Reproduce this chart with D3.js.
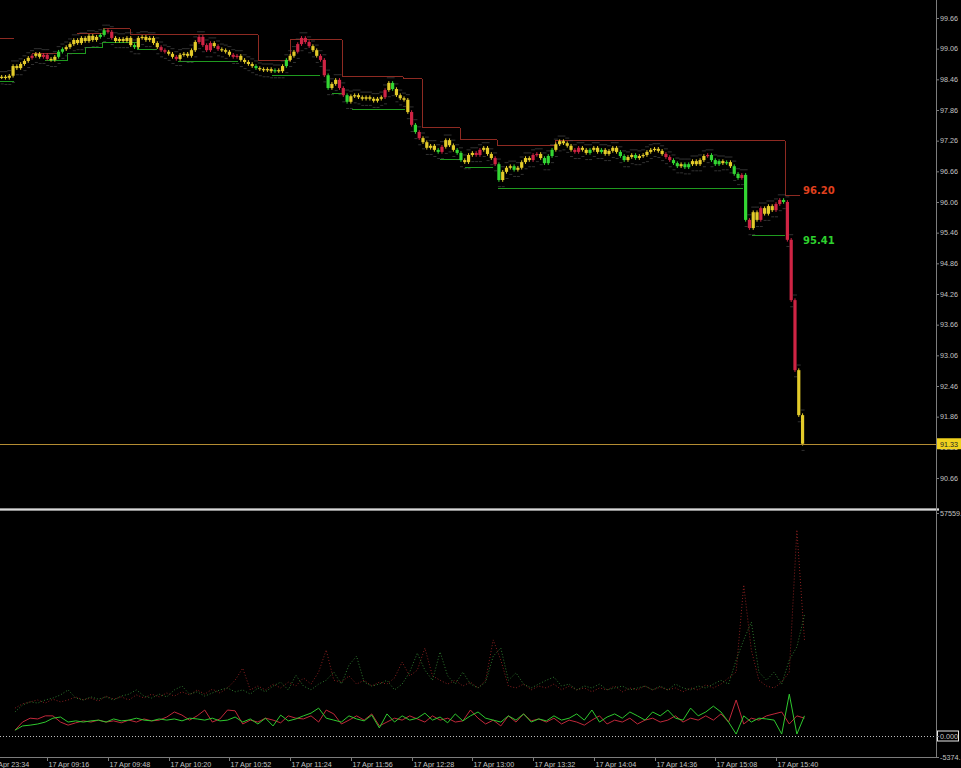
<!DOCTYPE html>
<html><head><meta charset="utf-8">
<script src="https://cdn.jsdelivr.net/npm/d3@7"></script>
<style>body{margin:0;background:#000;overflow:hidden}svg{display:block}</style>
</head><body>
<svg id="c" width="961" height="768"></svg>
<script>
// ---------- DATA ----------
const firstOpen = 98.50;
// closes, one candle per 2 one-minute bars, starting at bar 8
const closes = [
98.51,98.49,98.53,98.72,98.68,98.76,98.82,98.88,98.92,98.96,
98.90,98.94,98.86,98.84,98.90,99.00,99.05,99.09,99.15,99.23,
99.17,99.27,99.21,99.31,99.23,99.29,99.33,99.42,99.39,99.27,
99.21,99.25,99.21,99.27,99.13,99.09,99.27,99.29,99.23,99.27,
99.17,99.09,99.03,99.00,98.96,98.90,98.86,98.94,98.96,98.92,
99.03,99.19,99.29,99.13,99.03,99.17,99.11,99.05,99.03,99.00,
98.94,98.90,98.92,98.84,98.80,98.76,98.72,98.68,98.66,98.64,
98.66,98.62,98.64,98.62,98.72,98.84,98.92,99.00,99.15,99.27,
99.19,99.11,99.03,98.92,98.84,98.54,98.29,98.37,98.45,98.29,
98.15,98.02,98.13,98.15,98.11,98.08,98.11,98.08,98.04,98.08,
98.11,98.25,98.39,98.27,98.15,98.09,98.06,97.82,97.57,97.43,
97.31,97.23,97.12,97.16,97.08,97.04,97.14,97.27,97.17,97.08,
97.02,96.88,96.84,96.98,97.02,96.98,97.08,97.12,97.00,96.92,
96.80,96.49,96.65,96.73,96.76,96.69,96.73,96.84,96.92,96.88,
96.98,97.00,96.92,96.82,96.96,97.08,97.19,97.25,97.21,97.16,
97.08,97.04,97.12,97.08,97.02,97.08,97.12,97.04,97.08,97.00,
97.06,97.12,97.04,96.96,96.88,96.94,96.98,96.92,96.96,96.98,
97.04,97.08,97.10,97.06,97.00,96.94,96.88,96.82,96.76,96.80,
96.74,96.80,96.86,96.80,96.88,96.96,96.98,96.88,96.80,96.86,
96.82,96.84,96.76,96.61,96.53,96.59,95.71,95.55,95.86,95.71,
95.94,95.83,95.98,95.90,96.02,96.10,96.06,95.32,94.14,92.77,
91.89,91.33];
const candleColors =
"yyyyyyyyryyrryygg" + "yyyyyyyyy" + "ggrr" + "yyyyy" + "g" + "yyyyyy" + "rr" + "yyr" + "yyyyy" +
"rrrryr" + "yyyrr" + "yyyy" + "g" + "yyyy" + "g" + "yygy" + "yrrrr" + "yy" + "rrgyyrrg" +
"yyyyyyyyy" + "ryg" + "yyyy" + "rgr" + "yyyy" + "gr" + "yyy" + "gg" + "yyy" + "rr" + "yyyrg" +
"yyyg" + "yyyy" + "rryggg" + "yyyyy" + "rr" + "yygyy" + "g" + "yyyy" + "gg" + "yygyy" + "yyyyy" +
"rrg" + "gyggy" + "yyy" + "rgggyg" + "yggrgryyryyyrrgrrry";
const upperSteps = [
[0,14.5,99.27],[24,37,98.98],[47.7,61.4,99.37],[61.4,75.6,99.47],[75.6,143,99.35],
[143,160,98.83],[160,187.3,99.25],[187.3,219.4,98.53],[219.4,229.4,98.49],
[229.4,249.5,97.53],[249.5,269,97.30],[269,299.5,97.17],[299.5,420.7,97.28],[420.7,428.6,96.20]];
const lowerSteps = [
[0,14.5,98.43],[30.8,42.4,98.84],[42.4,51.9,98.97],[51.9,60.9,99.10],[60.9,79.3,99.20],
[79.3,89.8,99.05],[100.9,132.5,98.82],[150.4,175.7,98.55],[182,187.3,98.19],[192.6,220.5,97.87],
[238.9,250.5,96.90],[252.1,266.9,96.74],[269.5,398.6,96.34],[403.3,420.7,95.41]];
const priceTicks = [99.66,99.06,98.46,97.86,97.26,96.66,96.06,95.46,94.86,94.26,93.66,93.06,92.46,91.86,91.26,90.66];
const lastPrice = 91.33;
const levelHigh = 96.20, levelLow = 95.41;
const timeLabels = ["16 Apr 23:34","17 Apr 09:16","17 Apr 09:48","17 Apr 10:20","17 Apr 10:52","17 Apr 11:24",
"17 Apr 11:56","17 Apr 12:28","17 Apr 13:00","17 Apr 13:32","17 Apr 14:04","17 Apr 14:36","17 Apr 15:08","17 Apr 15:40"];
// lower panel, one point per 4 bars starting at bar 15
const volGreen = [1500,2600,2800,3100,3600,4600,4900,3600,3900,3600,3900,4100,3600,4400,3900,4100,4600,4100,3900,4400,
4100,4400,3900,4600,4400,4100,4600,3900,4100,4900,3600,4400,3100,4600,2600,5400,3900,4400,5200,5900,
7200,4600,4100,3600,5200,4400,3900,5400,2100,5700,3600,5200,4100,4600,5900,4100,4900,3400,5700,3900,
5200,6200,4600,4100,3600,5200,4100,5700,3600,4400,3900,5200,4100,4600,5700,4100,6700,3600,4900,5700,
4600,6200,5200,4100,6200,5200,6700,4600,4100,7200,5200,6200,7700,6200,3600,500,5200,3600,4600,4400,
4100,500,10800,500,5200];
const volRed = [1500,3600,4600,4400,5200,5200,3600,2800,3400,3900,3600,4100,3600,3900,3400,4100,3600,4400,3900,4100,
4900,6200,5400,4100,5200,6700,3600,4400,6700,6500,3100,4100,3600,4600,4100,3400,5200,4600,4400,5200,
3600,6700,5700,3100,4100,5200,4100,5700,2600,3600,4600,4100,5200,4400,3600,5200,4100,4600,3600,3900,
6700,4600,3100,4100,2600,5200,3600,5700,3900,4400,3600,4600,3100,4100,3600,2800,4100,5200,3100,4100,
3600,4600,3100,4100,4600,3600,4100,5200,3600,4600,4100,5200,4100,5700,3600,9300,3100,4600,4100,5200,
5700,6200,3100,5200,4600];
const volDotRed = [7200,8300,8800,9300,8500,9500,8800,9300,10100,9300,9800,9000,10300,9500,10100,9300,10600,9800,10800,10100,
11100,10300,11400,10600,11900,10800,12100,11100,12400,14400,17500,11900,12900,11900,13400,12400,13900,12900,15000,13400,
16500,22200,14400,13900,15500,13400,14400,12900,13900,13400,15000,19100,15500,17000,22700,15500,14400,13400,14400,12900,
13900,12400,14400,24800,19600,12900,12400,13400,11900,12900,12400,13400,11900,12900,11900,12400,11400,12400,11900,12900,
11400,12400,11900,12900,11900,12600,11900,12400,11400,12400,11900,13200,12400,13400,15000,16500,39000,22200,14400,12900,
12400,13900,16500,53200,24800];
const volDotGreen = [6200,8000,8800,8500,9300,9800,10600,11900,9800,9300,10100,9500,10100,9300,10300,10800,11900,10300,9800,10800,
10100,11900,12900,10800,11400,10300,11100,11900,12400,11400,11900,10800,12400,11400,12900,13900,11900,15700,12900,11900,
13400,14400,16500,13400,18300,20600,13900,12900,13400,14400,11900,13400,16500,21400,17000,14400,21700,15500,13400,16500,
13400,12400,13900,20600,22700,14400,16300,13400,12400,13400,14400,15200,12900,13400,11900,12900,12400,13400,11900,12400,
12900,11900,12400,12900,11900,12900,11900,13400,12400,11900,12900,12400,13400,14400,13400,19600,24800,29400,16500,14400,
16500,13400,19600,23000,31200];
const volTicks = [57559, 0, -5374];

// ---------- SCALES ----------
const W = 961, AX = 936;
const x = d3.scaleLinear().domain([0, 416]).range([-13.5, 776]);
const yP = d3.scaleLinear().domain([90.66, 99.66]).range([478, 18]);
const yV = d3.scaleLinear().domain([0, 57559]).range([736, 513]);
const col = {y:"#e3cb2a", g:"#33d633", r:"#cf2444"};
const svg = d3.select("#c");
svg.append("rect").attr("width",W).attr("height",768).attr("fill","#000");
svg.append("defs").append("clipPath").attr("id","cp").append("rect").attr("x",0).attr("y",0).attr("width",AX).attr("height",507);
svg.select("defs").append("clipPath").attr("id","cv").append("rect").attr("x",0).attr("y",511).attr("width",AX).attr("height",246);

const main = svg.append("g").attr("clip-path","url(#cp)");

// step lines
function drawSteps(steps, color){
  const g = main.append("g").attr("stroke",color).attr("stroke-width",1).attr("fill","none").attr("shape-rendering","crispEdges");
  steps.forEach((s,i)=>{
    g.append("line").attr("x1",x(s[0])).attr("x2",x(s[1])).attr("y1",Math.round(yP(s[2]))+0.5).attr("y2",Math.round(yP(s[2]))+0.5);
    const n = steps[i+1];
    if(n && Math.abs(n[0]-s[1])<0.01){
      g.append("line").attr("x1",Math.round(x(s[1]))+0.5).attr("x2",Math.round(x(s[1]))+0.5)
        .attr("y1",Math.round(yP(s[2]))+0.5).attr("y2",Math.round(yP(n[2]))+0.5);
    }
  });
}
drawSteps(upperSteps, "#8e2a22");
drawSteps(lowerSteps, "#1f9a1f");

// ghost dashes
const ghost = main.append("g").attr("fill","#5a5a5a").attr("opacity",0.55);
closes.forEach((c,j)=>{
  const o = j===0?firstOpen:closes[j-1];
  const xb = x(8+2*j);
  ghost.append("rect").attr("x",xb-2).attr("y",yP(Math.max(o,c)+0.11)).attr("width",4).attr("height",1);
  ghost.append("rect").attr("x",xb-1).attr("y",yP(Math.min(o,c)-0.12)).attr("width",3).attr("height",1);
});

// candles
const cg = main.append("g");
closes.forEach((c,j)=>{
  const o = j===0?firstOpen:closes[j-1];
  const xb = x(8+2*j);
  const k = candleColors[j] || "y";
  const hi = Math.max(o,c)+0.035, lo = Math.min(o,c)-0.035;
  cg.append("line").attr("x1",xb).attr("x2",xb).attr("y1",yP(hi)).attr("y2",yP(lo))
    .attr("stroke",col[k]).attr("stroke-width",1);
  const top = yP(Math.max(o,c)), bot = yP(Math.min(o,c));
  cg.append("rect").attr("x",xb-1.6).attr("y",top).attr("width",3.2).attr("height",Math.max(1.2,bot-top)).attr("fill",col[k]);
});

// last price line
svg.append("line").attr("x1",0).attr("x2",AX).attr("y1",Math.round(yP(lastPrice))+0.5).attr("y2",Math.round(yP(lastPrice))+0.5)
  .attr("stroke","#b48c32").attr("stroke-width",1);

// level labels
svg.append("text").attr("x",803).attr("y",yP(levelHigh)-1).attr("fill","#e0401e").attr("font-family","DejaVu Sans, sans-serif")
  .attr("font-size",10).attr("font-weight","bold").text(levelHigh.toFixed(2));
svg.append("text").attr("x",803).attr("y",yP(levelLow)+9).attr("fill","#2ed12e").attr("font-family","DejaVu Sans, sans-serif")
  .attr("font-size",10).attr("font-weight","bold").text(levelLow.toFixed(2));

// ---------- LOWER PANEL ----------
const vol = svg.append("g").attr("clip-path","url(#cv)");
const vx = (d,i)=>x(15+4*i);
const line = d3.line().x(vx).y(d=>yV(d));
vol.append("path").datum(volDotRed).attr("d",line).attr("fill","none").attr("stroke","#8a2020").attr("stroke-width",1).attr("stroke-dasharray","1,2");
vol.append("path").datum(volDotGreen).attr("d",line).attr("fill","none").attr("stroke","#2f7a2f").attr("stroke-width",1).attr("stroke-dasharray","1,2");
vol.append("path").datum(volRed).attr("d",line).attr("fill","none").attr("stroke","#c0283a").attr("stroke-width",1);
vol.append("path").datum(volGreen).attr("d",line).attr("fill","none").attr("stroke","#2ec82e").attr("stroke-width",1);
svg.append("line").attr("x1",0).attr("x2",AX).attr("y1",yV(0)+0.5).attr("y2",yV(0)+0.5)
  .attr("stroke","#bdbdbd").attr("stroke-width",1).attr("stroke-dasharray","1,2");

// separator
svg.append("rect").attr("x",0).attr("y",508).attr("width",AX+3).attr("height",3).attr("fill","#8c8c8c");
svg.append("rect").attr("x",0).attr("y",509).attr("width",AX+3).attr("height",1).attr("fill","#d8d8d8");

// ---------- AXES ----------
const axisCol = "#7c7c7c", txtCol = "#c4c4c4";
const FONT = "Liberation Sans, Arial, sans-serif";
svg.append("line").attr("x1",AX+0.5).attr("x2",AX+0.5).attr("y1",0).attr("y2",757).attr("stroke",axisCol);
svg.append("line").attr("x1",0).attr("x2",AX).attr("y1",757.5).attr("y2",757.5).attr("stroke",axisCol);

const ya = svg.append("g").attr("transform",`translate(${AX},0)`)
  .call(d3.axisRight(yP).tickValues(priceTicks).tickSize(3).tickFormat(d3.format(".2f")));
ya.select(".domain").remove();
ya.selectAll("line").attr("stroke",axisCol);
ya.selectAll("text").attr("fill",txtCol).attr("font-family",FONT).attr("font-size",7.2).attr("x",4);

// last price box
svg.append("rect").attr("x",AX+1).attr("y",yP(lastPrice)-5.5).attr("width",W-AX).attr("height",11).attr("fill","#f0d21e");
svg.append("text").attr("x",AX+4).attr("y",yP(lastPrice)+3).attr("fill","#222").attr("font-family",FONT).attr("font-size",7.2).text(lastPrice.toFixed(2));

// volume axis labels
volTicks.forEach(v=>{
  const yy = yV(v);
  const t = v===0 ? "0.000" : (v + ".");
  if(v===0){
    svg.append("rect").attr("x",AX+1.5).attr("y",yy-5).attr("width",21).attr("height",10).attr("fill","#000").attr("stroke","#e8e8e8");
  }
  svg.append("line").attr("x1",AX).attr("x2",AX+3).attr("y1",Math.round(yy)+0.5).attr("y2",Math.round(yy)+0.5).attr("stroke",axisCol);
  svg.append("text").attr("x",AX+4).attr("y",yy+3).attr("fill",txtCol).attr("font-family",FONT).attr("font-size",7.2).text(t);
});

// time axis
timeLabels.forEach((t,i)=>{
  const xx = Math.round(x(32*i))+0.5;
  svg.append("line").attr("x1",xx).attr("x2",xx).attr("y1",757).attr("y2",761).attr("stroke",axisCol);
  svg.append("text").attr("x",xx+1).attr("y",767).attr("fill",txtCol).attr("font-family",FONT).attr("font-size",7.2).text(t);
});
</script>
</body></html>
